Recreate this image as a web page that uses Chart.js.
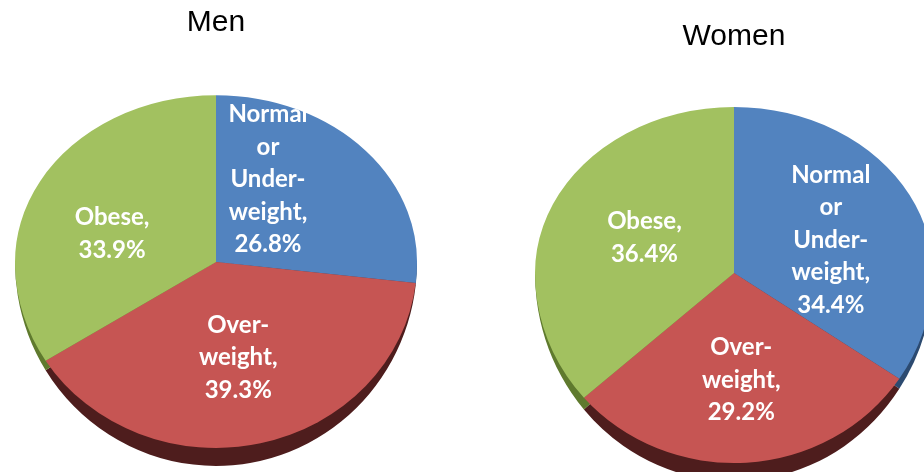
<!DOCTYPE html>
<html>
<head>
<meta charset="utf-8">
<script src="https://cdn.jsdelivr.net/npm/chart.js@4.4.1/dist/chart.umd.min.js"></script>
<style>
  html, body { margin: 0; padding: 0; background: #fff; overflow: hidden; }
  body { width: 924px; height: 472px; position: relative; }
  canvas { position: absolute; top: 0; }
</style>
</head>
<body>
<canvas id="menChart" width="462" height="472" style="left:0"></canvas>
<canvas id="womenChart" width="500" height="472" style="left:462px"></canvas>
<script>
// Data
const categories = [
  ['Normal', 'or', 'Under-', 'weight'],
  ['Over-', 'weight'],
  ['Obese']
];
const menValues = [26.8, 39.3, 33.9];
const womenValues = [34.4, 29.2, 36.4];

const topColors = ['#5283bf', '#c65553', '#a2c160'];
const wallColors = ['#2c4a70', '#4e1d1d', '#5f7a2e'];

// squash the round pie into a tilted disc with a side wall
const tiltPlugin = {
  id: 'tilt',
  beforeDatasetsDraw(chart, args, opts) {
    const ctx = chart.ctx;
    const arcs = chart.getDatasetMeta(0).data;
    const { x, y, outerRadius } = arcs[0];

    // side wall: a slightly taller lower half, thin at the sides, full depth at the front
    ctx.save();
    ctx.beginPath();
    ctx.rect(0, y, chart.width, chart.height - y);
    ctx.clip();
    ctx.translate(x, y);
    ctx.scale(1, (outerRadius * opts.bottom + opts.depth) / outerRadius);
    ctx.translate(-x, -y);
    arcs.forEach((arc, i) => {
      ctx.beginPath();
      ctx.moveTo(x, y);
      ctx.arc(x, y, arc.outerRadius, arc.startAngle, arc.endAngle);
      ctx.closePath();
      ctx.fillStyle = wallColors[i];
      ctx.fill();
    });
    ctx.restore();

    // top half of the disc, drawn by the library
    ctx.save();
    ctx.beginPath();
    ctx.rect(0, 0, chart.width, y);
    ctx.clip();
    ctx.translate(x, y);
    ctx.scale(1, opts.top);
    ctx.translate(-x, -y);
  },
  afterDatasetsDraw(chart, args, opts) {
    const ctx = chart.ctx;
    ctx.restore();
    const arcs = chart.getDatasetMeta(0).data;
    const { x, y } = arcs[0];

    // bottom half of the disc
    ctx.save();
    ctx.beginPath();
    ctx.rect(0, y, chart.width, chart.height - y);
    ctx.clip();
    ctx.translate(x, y);
    ctx.scale(1, opts.bottom);
    ctx.translate(-x, -y);
    arcs.forEach(arc => arc.draw(ctx));
    ctx.restore();

    // labels
    const values = chart.data.datasets[0].data;
    ctx.save();
    ctx.fillStyle = '#fff';
    ctx.font = 'bold 24px Lato';
    ctx.textAlign = 'center';
    ctx.textBaseline = 'middle';
    arcs.forEach((arc, i) => {
      const p = arc.tooltipPosition();
      const dy = p.y - y;
      const px = p.x + opts.shift[i][0];
      const py = y + dy * (dy < 0 ? opts.top : opts.bottom) + opts.shift[i][1];
      const lines = categories[i].slice();
      lines[lines.length - 1] += ',';
      lines.push(values[i].toFixed(1) + '%');
      const lh = 32.5;
      lines.forEach((t, k) => {
        ctx.fillText(t, px, py + (k - (lines.length - 1) / 2) * lh);
      });
    });
    ctx.restore();
  }
};

function makePie(id, title, values, pad, titlePad, tilt) {
  return new Chart(document.getElementById(id), {
    type: 'pie',
    data: {
      labels: categories.map(c => c.join(' ')),
      datasets: [{
        data: values,
        backgroundColor: topColors,
        borderWidth: 0,
        clip: false
      }]
    },
    options: {
      responsive: false,
      animation: false,
      layout: { padding: pad },
      plugins: {
        legend: { display: false },
        tooltip: { enabled: false },
        title: {
          display: true,
          text: title,
          color: '#000',
          font: { family: 'Liberation Sans', size: 30, weight: 'normal', lineHeight: 1.2 },
          padding: titlePad
        },
        tilt: tilt
      }
    },
    plugins: [tiltPlugin]
  });
}

makePie('menChart', 'Men', menValues,
  { left: 15, right: 45, top: 0, bottom: 9 },
  { top: 5, bottom: 20 },
  { top: 0.83, bottom: 0.925, depth: 18,
    shift: [[-23, -27], [0, 5], [-16, 12]] });

makePie('womenChart', 'Women', womenValues,
  { left: 73, right: 29, top: 0, bottom: 0 },
  { top: 19, bottom: 19 },
  { top: 0.834, bottom: 0.955, depth: 18,
    shift: [[9, 6], [1, 12], [1, -1]] });
</script>
</body>
</html>
